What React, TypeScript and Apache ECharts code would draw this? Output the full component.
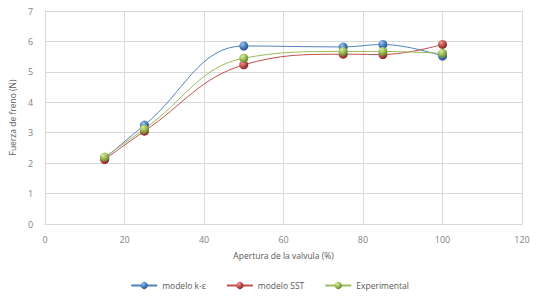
import React, { useEffect, useRef } from "react";
import * as echarts from "echarts";

const xValues = [15, 25, 50, 75, 85, 100];
const kEpsilon = [2.15, 3.25, 5.85, 5.82, 5.9, 5.52];
const sst = [2.12, 3.05, 5.23, 5.58, 5.57, 5.9];
const experimental = [2.2, 3.12, 5.45, 5.67, 5.67, 5.61];
const seriesNames = ["modelo k-ε", "modelo SST", "Experimental"];
const colors = ["#4F81BD", "#C0504D", "#9BBB59"];
const lights = ["#9CC3F0", "#F09A98", "#D3F09A"];
const darks = ["#1F4E8A", "#7E1F1C", "#5E7E22"];

const sphere = (i: number) =>
  new echarts.graphic.RadialGradient(0.35, 0.3, 0.75, [
    { offset: 0, color: lights[i] },
    { offset: 0.5, color: colors[i] },
    { offset: 1, color: darks[i] },
  ]);

export default function App() {
  const ref = useRef<HTMLDivElement>(null);
  useEffect(() => {
    const chart = echarts.init(ref.current!, null, { renderer: "svg" });
    const data = [kEpsilon, sst, experimental];
    chart.setOption({
      animation: false,
      textStyle: { fontFamily: "Open Sans" },
      grid: { left: 45, right: 17, top: 11, bottom: 79, containLabel: false },
      legend: {
        bottom: 8,
        left: "center",
        itemWidth: 26,
        itemHeight: 9,
        itemGap: 20,
        textStyle: { color: "#595959", fontSize: 8.5, fontFamily: "Open Sans" },
        data: seriesNames,
      },
      xAxis: {
        type: "value",
        min: 0,
        max: 120,
        interval: 20,
        name: "Apertura de la valvula (%)",
        nameLocation: "middle",
        nameGap: 27,
        nameTextStyle: { color: "#595959", fontSize: 8.5 },
        axisLine: { show: true, lineStyle: { color: "#d9d9d9" } },
        axisTick: { show: false },
        axisLabel: { color: "#7f7f7f", fontSize: 9, margin: 11 },
        splitLine: { show: true, lineStyle: { color: "#d9d9d9" } },
      },
      yAxis: {
        type: "value",
        min: 0,
        max: 7,
        interval: 1,
        name: "Fuerza de freno (N)",
        nameLocation: "middle",
        nameGap: 22,
        nameTextStyle: { color: "#595959", fontSize: 8.5 },
        axisLine: { show: true, lineStyle: { color: "#d9d9d9" } },
        axisTick: { show: false },
        axisLabel: { color: "#7f7f7f", fontSize: 9, margin: 12 },
        splitLine: { show: true, lineStyle: { color: "#d9d9d9" } },
      },
      series: seriesNames.map((name, i) => ({
        name,
        type: "line",
        smooth: 0.4,
        symbol: "circle",
        symbolSize: 9,
        data: xValues.map((x, j) => [x, data[i][j]]),
        lineStyle: { color: colors[i], width: 1 },
        itemStyle: { color: sphere(i), borderWidth: 0 },
        emphasis: { disabled: true },
      })),
    });
    return () => chart.dispose();
  }, []);
  return <div ref={ref} style={{ width: 539, height: 303, position: "absolute", left: 0, top: 0 }} />;
}
